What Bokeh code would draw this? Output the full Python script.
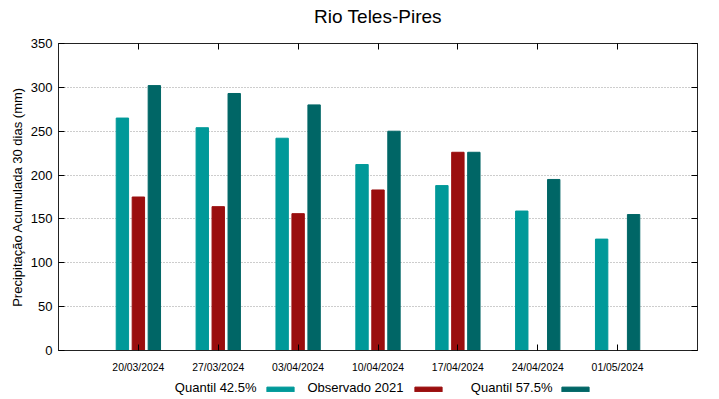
from bokeh.plotting import figure
from bokeh.layouts import column
from bokeh.models import (FactorRange, CategoricalAxis, LinearAxis, Range1d, Label,
                          Legend, LegendItem, ColumnDataSource, FixedTicker,
                          CustomJSTickFormatter)
from bokeh.transform import dodge
from bokeh.embed import file_html
from bokeh.resources import INLINE

dates = ["20/03/2024", "27/03/2024", "03/04/2024", "10/04/2024",
         "17/04/2024", "24/04/2024", "01/05/2024"]
q425 = [265, 254, 242, 212, 188, 159, 127]
obs2021 = [175, 164, 156, 183, 226, None, None]
q575 = [302, 293, 280, 250, 226, 195, 155]

title_txt = "Rio Teles-Pires"
ylabel = "Precipitação Acumulada 30 dias (mm)"
names = ["Quantil 42.5%", "Observado 2021", "Quantil 57.5%"]
colors = ["#009999", "#9a0e0e", "#006666"]
yticks = list(range(0, 351, 50))

FONT = "Liberation Sans"
W = 719
BL, BR = 58, 22

xr = FactorRange(factors=dates, range_padding=0.5, range_padding_units="absolute")

# title strip
tt = figure(width=W, height=27, output_backend="svg", toolbar_location=None,
            x_range=xr, y_range=Range1d(0, 1),
            min_border_left=BL, min_border_right=BR, min_border_top=0, min_border_bottom=0)
tt.axis.visible = False
tt.grid.visible = False
tt.outline_line_color = None
tt.add_layout(Label(x=319.5, y=11, x_units="screen", y_units="screen", text=title_txt,
                    text_align="center", text_baseline="middle", text_font=FONT,
                    text_font_size="19px", text_color="black"))

p = figure(width=W, height=348, output_backend="svg", toolbar_location=None,
           x_range=xr, y_range=Range1d(0, 350),
           min_border_left=BL, min_border_right=BR, min_border_top=16, min_border_bottom=25)

s1 = ColumnDataSource(dict(x=dates, top=q425))
obs_x = [d for d, v in zip(dates, obs2021) if v is not None]
obs_v = [v for v in obs2021 if v is not None]
s2 = ColumnDataSource(dict(x=obs_x, top=obs_v))
s3 = ColumnDataSource(dict(x=dates, top=q575))
sources = [s1, s2, s3]
offsets = [-0.2, 0.0, 0.2]

bw = 0.155
for src, off, col in zip(sources, offsets, colors):
    p.vbar(x=dodge("x", off, range=p.x_range), top="top", width=bw, source=src,
           fill_color=col, line_color=col)

p.xgrid.visible = False
p.ygrid.ticker = FixedTicker(ticks=yticks)
p.ygrid.grid_line_color = "#9a9a9a"
p.ygrid.grid_line_dash = "1 2"
p.ygrid.grid_line_width = 1

p.outline_line_color = "#222222"
p.outline_line_width = 1

yax = p.yaxis[0]
yax.ticker = FixedTicker(ticks=yticks)
yax.major_tick_in = 6
yax.major_tick_out = 0
yax.minor_tick_in = 0
yax.minor_tick_out = 0
yax.major_label_standoff = 6
yax.major_label_text_font = FONT
yax.major_label_text_font_size = "13px"
yax.major_label_text_color = "black"
yax.axis_label = ylabel
yax.axis_label_text_font = FONT
yax.axis_label_text_font_size = "13px"
yax.axis_label_text_font_style = "normal"
yax.axis_label_text_color = "black"
yax.axis_label_standoff = 3
yax.axis_line_color = "#222222"

xax = p.xaxis[0]
xax.major_tick_in = 6
xax.major_tick_out = 0
xax.major_label_standoff = 11
xax.major_label_text_font = FONT
xax.major_label_text_font_size = "10.4px"
xax.major_label_text_color = "black"
xax.axis_line_color = "#222222"

ax_top = CategoricalAxis(major_tick_in=6, major_tick_out=0,
                         formatter=CustomJSTickFormatter(code="return ''"),
                         major_label_text_font_size="8px",
                         major_label_standoff=0, axis_line_color="#222222")
p.add_layout(ax_top, "above")
ax_right = LinearAxis(ticker=FixedTicker(ticks=yticks), major_tick_in=6,
                      major_tick_out=0, minor_tick_in=0, minor_tick_out=0,
                      formatter=CustomJSTickFormatter(code="return ''"),
                      major_label_text_font_size="8px",
                      major_label_standoff=0, axis_line_color="#222222")
p.add_layout(ax_right, "right")

# legend row (text, then swatch) in a strip below the chart
lg = figure(width=W, height=24, output_backend="svg", toolbar_location=None,
            x_range=xr, y_range=Range1d(0, 1),
            min_border_left=BL, min_border_right=BR, min_border_top=0, min_border_bottom=0)
lg.axis.visible = False
lg.grid.visible = False
lg.outline_line_color = None

text_right = [198, 345, 494]   # from frame left
sw_left = [205, 353, 500]
for name, src, off, col, tx, sx in zip(names, sources, offsets, colors, text_right, sw_left):
    r = lg.vbar(x=dodge("x", off, range=lg.x_range), top="top", width=bw, source=src,
                fill_color=col, line_color=col, visible=False)
    lg.add_layout(Label(x=tx, y=12, x_units="screen", y_units="screen", text=name,
                        text_align="right", text_baseline="middle",
                        text_font=FONT, text_font_size="13px", text_color="black"))
    leg = Legend(items=[LegendItem(label="", renderers=[r])], location=(sx, 7),
                 glyph_width=34, glyph_height=6, label_width=0, label_height=6,
                 label_standoff=0, padding=0, margin=0, spacing=0,
                 border_line_color=None, background_fill_alpha=0,
                 inactive_fill_alpha=0, label_text_font_size="6px")
    lg.add_layout(leg, "center")

open("out.html", "w").write(file_html(column(tt, p, lg, spacing=0), INLINE))
